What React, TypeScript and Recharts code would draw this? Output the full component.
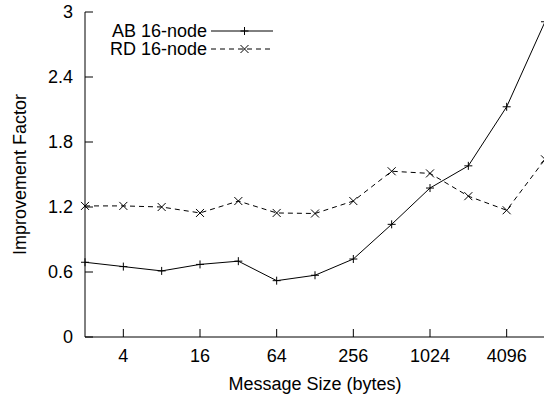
import React from "react";
import { LineChart, Line, XAxis, YAxis, Label } from "recharts";

const messageSizes = [2, 4, 8, 16, 32, 64, 128, 256, 512, 1024, 2048, 4096, 8192];
const abValues = [0.69, 0.65, 0.61, 0.67, 0.7, 0.52, 0.57, 0.72, 1.04, 1.375, 1.58, 2.125, 2.91];
const rdValues = [1.21, 1.21, 1.2, 1.145, 1.255, 1.145, 1.14, 1.255, 1.53, 1.51, 1.3, 1.17, 1.64];
const xTicks = [4, 16, 64, 256, 1024, 4096];
const yTicks = [0, 0.6, 1.2, 1.8, 2.4, 3];
const seriesNames = ["AB 16-node", "RD 16-node"];

const data = messageSizes.map((s, i) => ({ size: s, ab: abValues[i], rd: rdValues[i] }));

const FONT = "'Liberation Sans', Arial, Helvetica, sans-serif";
const FS = 18;
const TICK = 8;

const plusPath = (cx: number, cy: number) => `M${cx - 4},${cy}h8M${cx},${cy - 4}v8`;
const crossPath = (cx: number, cy: number) => `M${cx - 4},${cy - 4}l8,8M${cx - 4},${cy + 4}l8,-8`;

const PlusDot = (props: any) => {
  const { cx, cy, index } = props;
  if (cx == null || cy == null) return <g key={`pn${index}`} />;
  return <path key={`p${index}`} d={plusPath(cx, cy)} stroke="#000" strokeWidth={1} fill="none" />;
};
const CrossDot = (props: any) => {
  const { cx, cy, index } = props;
  if (cx == null || cy == null) return <g key={`cn${index}`} />;
  return <path key={`c${index}`} d={crossPath(cx, cy)} stroke="#000" strokeWidth={1} fill="none" />;
};

const BottomTick = (props: any) => {
  const { x, y, payload } = props;
  return (
    <g>
      <line x1={x} y1={y} x2={x} y2={y - TICK} stroke="#000" />
      <text x={x} y={y + 25.4} textAnchor="middle" fill="#000" fontSize={FS} fontFamily={FONT}>
        {payload.value}
      </text>
    </g>
  );
};
const TopTick = (props: any) => {
  const { x, y } = props;
  return <line x1={x} y1={y} x2={x} y2={y + TICK} stroke="#000" />;
};
const LeftTick = (props: any) => {
  const { x, y, payload } = props;
  return (
    <g>
      <line x1={x} y1={y} x2={x + TICK} y2={y} stroke="#000" />
      <text x={x - 12} y={y} dy="0.36em" textAnchor="end" fill="#000" fontSize={FS} fontFamily={FONT}>
        {payload.value}
      </text>
    </g>
  );
};
const RightTick = (props: any) => {
  const { x, y } = props;
  return <line x1={x} y1={y} x2={x - TICK} y2={y} stroke="#000" />;
};

const LegendBox = () => {
  const rows = [
    { name: seriesNames[0], dash: undefined as string | undefined, path: plusPath },
    { name: seriesNames[1], dash: "5 4", path: crossPath },
  ];
  return (
    <div style={{ position: "absolute", left: 0, top: 0, width: 300, height: 60, pointerEvents: "none" }}>
      {rows.map((r, i) => (
        <div key={r.name} style={{ position: "absolute", top: 20.5 + i * 18, left: 0, height: 20 }}>
          <div
            style={{
              position: "absolute",
              left: 0,
              width: 207,
              textAlign: "right",
              lineHeight: "20px",
              fontSize: FS,
              fontFamily: FONT,
              color: "#000",
              whiteSpace: "nowrap",
            }}
          >
            {r.name}
          </div>
          <svg style={{ position: "absolute", left: 211, top: 0 }} width={64} height={20}>
            <line x1={0} y1={10} x2={62} y2={10} stroke="#000" strokeWidth={1} strokeDasharray={r.dash} />
            <path d={r.path(33.5, 10)} stroke="#000" strokeWidth={1} fill="none" />
          </svg>
        </div>
      ))}
    </div>
  );
};

export default function App() {
  return (
    <div style={{ position: "absolute", left: 0, top: 0, width: 546, height: 398, background: "#fff" }}>
      <style>{"body{margin:0;overflow:hidden;background:#fff}"}</style>
      <LineChart width={546} height={398} data={data} margin={{ top: 12, right: 1, left: 0, bottom: 0 }}>
        <XAxis
          dataKey="size"
          type="number"
          scale="log"
          domain={[2, 8192]}
          ticks={xTicks}
          height={61}
          tickSize={0}
          tickMargin={0}
          tick={<BottomTick />}
          tickLine={false}
          axisLine={{ stroke: "#000" }}
          interval={0}
        >
          <Label
            content={(p: any) => {
              const vb = p.viewBox;
              return (
                <text x={vb.x + vb.width / 2} y={vb.y + 53} textAnchor="middle" fill="#000" fontSize={FS} fontFamily={FONT}>
                  Message Size (bytes)
                </text>
              );
            }}
          />
        </XAxis>
        <XAxis
          xAxisId="top"
          dataKey="size"
          orientation="top"
          type="number"
          scale="log"
          domain={[2, 8192]}
          ticks={xTicks}
          height={0}
          tickSize={0}
          tickMargin={0}
          tick={<TopTick />}
          tickLine={false}
          axisLine={{ stroke: "#000" }}
          interval={0}
        />
        <YAxis
          type="number"
          domain={[0, 3]}
          ticks={yTicks}
          width={85}
          tickSize={0}
          tickMargin={0}
          tick={<LeftTick />}
          tickLine={false}
          axisLine={{ stroke: "#000" }}
          interval={0}
        >
          <Label
            content={(p: any) => {
              const vb = p.viewBox;
              const cx = vb.x + 26;
              const cy = vb.y + vb.height / 2;
              return (
                <text
                  x={cx}
                  y={cy}
                  transform={`rotate(-90, ${cx}, ${cy})`}
                  textAnchor="middle"
                  fill="#000"
                  fontSize={FS}
                  fontFamily={FONT}
                >
                  Improvement Factor
                </text>
              );
            }}
          />
        </YAxis>
        <YAxis
          yAxisId="right"
          orientation="right"
          type="number"
          domain={[0, 3]}
          ticks={yTicks}
          width={0}
          tickSize={0}
          tickMargin={0}
          tick={<RightTick />}
          tickLine={false}
          axisLine={{ stroke: "#000" }}
          interval={0}
        />
        <Line
          dataKey="ab"
          name={seriesNames[0]}
          stroke="#000"
          strokeWidth={1}
          dot={PlusDot}
          activeDot={false}
          isAnimationActive={false}
        />
        <Line
          dataKey="rd"
          name={seriesNames[1]}
          stroke="#000"
          strokeWidth={1}
          strokeDasharray="5 4"
          dot={CrossDot}
          activeDot={false}
          isAnimationActive={false}
        />
      </LineChart>
      <LegendBox />
    </div>
  );
}
